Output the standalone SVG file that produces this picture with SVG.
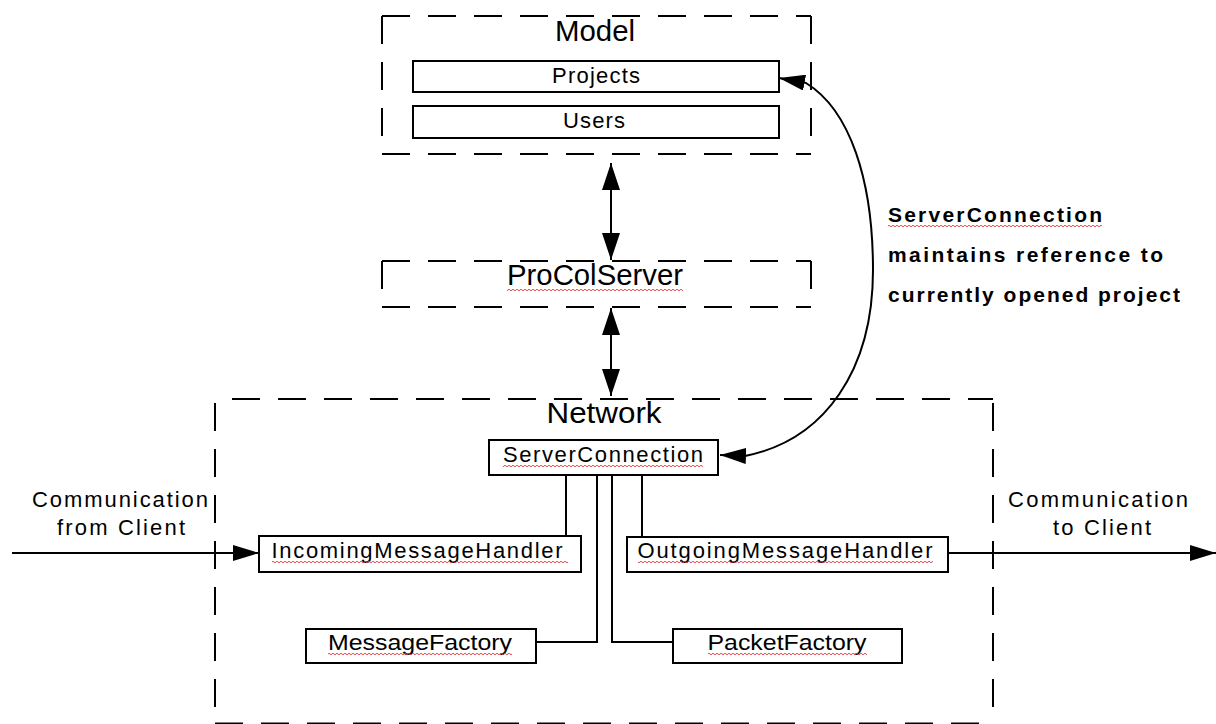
<svg xmlns="http://www.w3.org/2000/svg" width="1216" height="724" viewBox="0 0 1216 724">
<style>
.dash{fill:none;stroke:#000;stroke-width:2;stroke-dasharray:28 18}
.box{fill:#fff;stroke:#000;stroke-width:2}
.con{fill:none;stroke:#000;stroke-width:2}
.lbl{font-family:"Liberation Sans",Arial,sans-serif;font-size:22px;text-anchor:middle;fill:#000}
.title{font-size:29px}
.note{font-weight:bold;font-size:21px;text-anchor:start}
.sq{fill:url(#sq)}
</style>
<defs>
<marker id="ah" markerUnits="userSpaceOnUse" markerWidth="26" markerHeight="16" refX="26" refY="8" orient="auto-start-reverse" viewBox="0 0 26 16">
<path d="M0 0 L26 8 L0 16 Z" fill="#000"/>
</marker>
<marker id="ahv" markerUnits="userSpaceOnUse" markerWidth="27" markerHeight="18" refX="27" refY="9" orient="auto-start-reverse" viewBox="0 0 27 18">
<path d="M0 0 L27 9 L0 18 Z" fill="#000"/>
</marker>
<pattern id="sq" width="4" height="4" patternUnits="userSpaceOnUse">
<path d="M0 2 Q1 0.5 2 2 T4 2" fill="none" stroke="#d8343a" stroke-width="0.9"/>
</pattern>
</defs>
<rect width="1216" height="724" fill="#fff"/>

<g id="model">
<path class="dash" d="M382 16 H811 M382 16 V154 M382 154 H811 M811 16 V154"/>
<text class="lbl title" x="595" y="41" font-size="30" textLength="80" lengthAdjust="spacingAndGlyphs">Model</text>
</g>
<g id="procolserver">
<path class="dash" d="M382 261 H811 M382 261 V307 M382 307 H811 M811 261 V307"/>
<text class="lbl title" x="595" y="285" textLength="176" lengthAdjust="spacingAndGlyphs">ProColServer</text>
<rect class="sq" x="507" y="288" width="176" height="4"/>
</g>
<g id="network">
<path class="dash" d="M232 399 H993 M215 403 V724 M215 723.5 H993 M993 403 V724"/>
<text class="lbl title" x="604" y="423" font-size="28" textLength="115" lengthAdjust="spacingAndGlyphs">Network</text>
</g>

<g id="connectors">
<path class="con" d="M611 163 V260" marker-start="url(#ahv)" marker-end="url(#ahv)"/>
<path class="con" d="M611 308 V396" marker-start="url(#ahv)" marker-end="url(#ahv)"/>
<path class="con" d="M779 78 L806 83 C850 110 873 180 873 270 C873 370 825 440 745 456 L720 455" marker-start="url(#ah)" marker-end="url(#ah)"/>
<path class="con" d="M12 553 H259" marker-end="url(#ah)"/>
<path class="con" d="M948 553 H1216" marker-end="url(#ah)"/>
<path class="con" d="M566 475 V536"/>
<path class="con" d="M597 475 V642 H536"/>
<path class="con" d="M612 475 V642 H673"/>
<path class="con" d="M642 475 V537"/>
</g>

<g id="projects">
<rect class="box" x="413" y="61" width="366" height="31"/>
<text class="lbl" x="596" y="83" font-size="21" textLength="88" lengthAdjust="spacing">Projects</text>
</g>
<g id="users">
<rect class="box" x="413" y="106" width="366" height="32"/>
<text class="lbl" x="594" y="128" font-size="21" textLength="62" lengthAdjust="spacing">Users</text>
</g>
<g id="serverconnection">
<rect class="box" x="489" y="440" width="229" height="35"/>
<text class="lbl" x="603" y="462" textLength="200" lengthAdjust="spacing">ServerConnection</text>
<rect class="sq" x="503" y="464" width="200" height="4"/>
</g>
<g id="incomingmessagehandler">
<rect class="box" x="259" y="536" width="322" height="36"/>
<text class="lbl" x="417" y="558" textLength="291" lengthAdjust="spacing">IncomingMessageHandler</text>
<rect class="sq" x="272" y="560" width="296" height="4"/>
</g>
<g id="outgoingmessagehandler">
<rect class="box" x="627" y="537" width="321" height="35"/>
<text class="lbl" x="785" y="558" textLength="295" lengthAdjust="spacing">OutgoingMessageHandler</text>
<rect class="sq" x="638" y="560" width="295" height="4"/>
</g>
<g id="messagefactory">
<rect class="box" x="306" y="629" width="230" height="34"/>
<text class="lbl" x="420" y="650" textLength="184" lengthAdjust="spacingAndGlyphs">MessageFactory</text>
<rect class="sq" x="328" y="652" width="184" height="4"/>
</g>
<g id="packetfactory">
<rect class="box" x="673" y="629" width="229" height="34"/>
<text class="lbl" x="787" y="650" textLength="159" lengthAdjust="spacingAndGlyphs">PacketFactory</text>
<rect class="sq" x="708" y="652" width="159" height="4"/>
</g>

<g id="labels">
<text class="lbl" x="120" y="507" textLength="176" lengthAdjust="spacing">Communication</text>
<text class="lbl" x="121" y="535" textLength="128" lengthAdjust="spacing">from Client</text>
<text class="lbl" x="1098" y="507" textLength="180" lengthAdjust="spacing">Communication</text>
<text class="lbl" x="1102" y="535" textLength="98" lengthAdjust="spacing">to Client</text>
<text class="lbl note" x="888" y="222" textLength="214" lengthAdjust="spacing">ServerConnection</text>
<rect class="sq" x="888" y="224" width="214" height="4"/>
<text class="lbl note" x="888" y="262" textLength="275" lengthAdjust="spacing">maintains reference to</text>
<text class="lbl note" x="888" y="302" textLength="292" lengthAdjust="spacing">currently opened project</text>
</g>
</svg>
